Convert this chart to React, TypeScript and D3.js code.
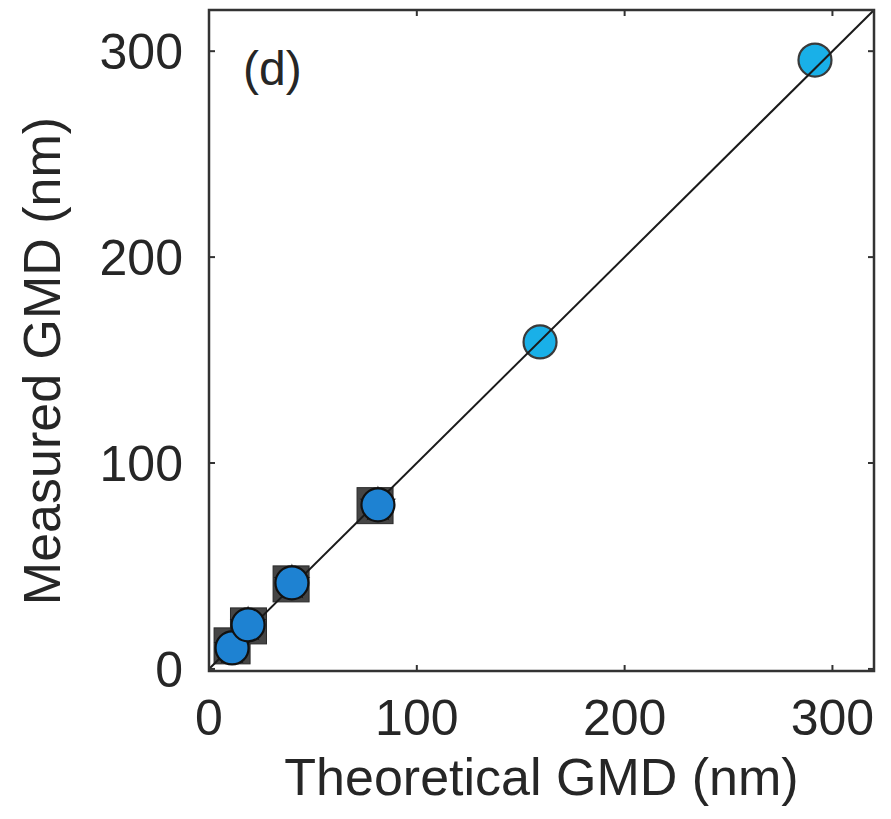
import React from "react";
import * as d3 from "d3";

const xTicks = [0, 100, 200, 300];
const yTicks = [0, 100, 200, 300];
const xLabel = "Theoretical GMD (nm)";
const yLabel = "Measured GMD (nm)";
const panelLabel = "(d)";

// square markers (series A)
const squareX = [11.1, 19.0, 39.5, 79.9];
const squareY = [11.2, 20.9, 41.3, 79.3];
// star markers behind small circles
const starX = [11.1, 18.8, 39.9, 81.3];
const starY = [10.2, 21.4, 41.8, 79.7];
// circle markers, small sizes (series B)
const circleLowX = [11.1, 18.8, 39.9, 81.3];
const circleLowY = [10.2, 21.4, 41.8, 79.7];
// circle markers, large sizes (series C)
const circleHighX = [159.3, 291.6];
const circleHighY = [158.8, 295.7];
// 1:1 line
const lineX = [0, 320];
const lineY = [0, 320];

const W = 891;
const H = 819;
const FONT = "'Liberation Sans', Arial, Helvetica, sans-serif";
const TXT = "#262626";

export default function App() {
  const x = d3.scaleLinear().domain([0, 320]).range([209, 874]);
  const y = d3.scaleLinear().domain([-1, 320]).range([671, 10]);
  const [x0, x1] = x.range();
  const [y0, y1] = y.range();

  const line = d3
    .line<number>()
    .x((_, i) => x(lineX[i]))
    .y((_, i) => y(lineY[i]));

  const star = d3.symbol().type(d3.symbolStar).size(420)();
  const tick = 6;

  return (
    <svg width={W} height={H} style={{ position: "absolute", left: 0, top: 0, background: "#fff" }}>
      <rect x={0} y={0} width={W} height={H} fill="#fff" />
      {/* squares */}
      {squareX.map((v, i) => (
        <rect
          key={"s" + i}
          x={x(v) - 18}
          y={y(squareY[i]) - 18}
          width={36}
          height={36}
          fill="#454545"
          stroke="#2a2a2a"
          strokeWidth={1}
        />
      ))}
      {/* stars */}
      {starX.map((v, i) => (
        <path key={"st" + i} d={star || ""} transform={`translate(${x(v)},${y(starY[i])})`} fill="#151515" />
      ))}
      {/* large circles (under the line) */}
      {circleHighX.map((v, i) => (
        <circle
          key={"ch" + i}
          cx={x(v)}
          cy={y(circleHighY[i])}
          r={16.5}
          fill="#19b0e8"
          stroke="#3a3a3a"
          strokeWidth={2.2}
        />
      ))}
      {/* 1:1 line */}
      <path d={line(lineX) || ""} fill="none" stroke="#1a1a1a" strokeWidth={2} clipPath="url(#clip)" />
      {/* small circles (over the line) */}
      {circleLowX.map((v, i) => (
        <circle
          key={"cl" + i}
          cx={x(v)}
          cy={y(circleLowY[i])}
          r={16.5}
          fill="#1e82d2"
          stroke="#111"
          strokeWidth={2.2}
        />
      ))}
      <defs>
        <clipPath id="clip">
          <rect x={x0} y={y1} width={x1 - x0} height={y0 - y1} />
        </clipPath>
      </defs>
      {/* frame */}
      <rect x={x0} y={y1} width={x1 - x0} height={y0 - y1} fill="none" stroke="#333" strokeWidth={2.5} />
      {/* ticks */}
      {xTicks.map((t) => (
        <g key={"xt" + t}>
          <line x1={x(t)} x2={x(t)} y1={y0} y2={y0 - tick} stroke="#333" strokeWidth={2} />
          <line x1={x(t)} x2={x(t)} y1={y1} y2={y1 + tick} stroke="#333" strokeWidth={2} />
          <text
            x={x(t)}
            y={735}
            textAnchor="middle"
            fontFamily={FONT}
            fontSize={50}
            fill={TXT}
          >
            {t}
          </text>
        </g>
      ))}
      {yTicks.map((t) => (
        <g key={"yt" + t}>
          <line x1={x0} x2={x0 + tick} y1={y(t)} y2={y(t)} stroke="#333" strokeWidth={2} />
          <line x1={x1} x2={x1 - tick} y1={y(t)} y2={y(t)} stroke="#333" strokeWidth={2} />
          <text
            x={x0 - 26}
            y={y(t) + 18}
            textAnchor="end"
            fontFamily={FONT}
            fontSize={50}
            fill={TXT}
          >
            {t}
          </text>
        </g>
      ))}
      <text x={243} y={85} fontFamily={FONT} fontSize={48} fill={TXT}>
        {panelLabel}
      </text>
      <text x={(x0 + x1) / 2} y={795} textAnchor="middle" fontFamily={FONT} fontSize={52} fill={TXT}>
        {xLabel}
      </text>
      <text
        transform={`translate(60,361) rotate(-90)`}
        textAnchor="middle"
        fontFamily={FONT}
        fontSize={52}
        fill={TXT}
      >
        {yLabel}
      </text>
    </svg>
  );
}
